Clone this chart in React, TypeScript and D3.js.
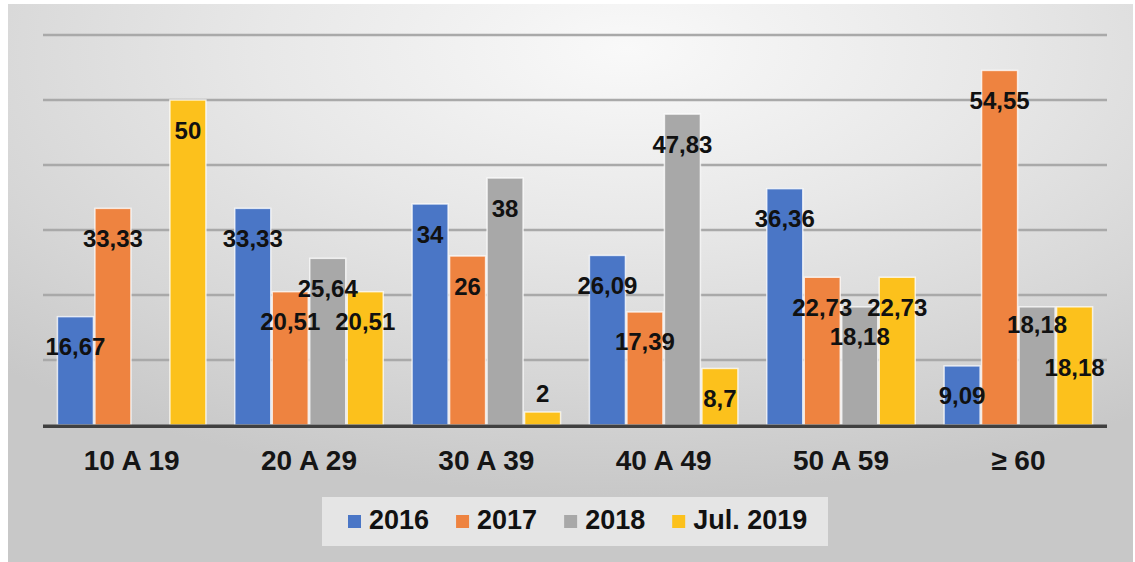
import React from "react";
import * as d3 from "d3";

const categories = ["10 A 19", "20 A 29", "30 A 39", "40 A 49", "50 A 59", "≥ 60"];
const seriesNames = ["2016", "2017", "2018", "Jul. 2019"];
const s2016 = [16.67, 33.33, 34, 26.09, 36.36, 9.09];
const s2017 = [33.33, 20.51, 26, 17.39, 22.73, 54.55];
const s2018: (number | null)[] = [null, 25.64, 38, 47.83, 18.18, 18.18];
const sJul2019 = [50, 20.51, 2, 8.7, 22.73, 18.18];
const yTicks = [0, 10, 20, 30, 40, 50, 60];

const seriesValues: (number | null)[][] = [s2016, s2017, s2018, sJul2019];
const colors = ["#4a76c6", "#ee8340", "#a8a8a8", "#fcc11c"];

// label placement nudges (pixels relative to default inside-end spot)
const labelNudge: Record<string, number> = {
  "30 A 39|Jul. 2019": -49,
  "≥ 60|2018": -12,
  "≥ 60|Jul. 2019": 31,
};

const W = 1135;
const H = 562;
const FONT = "'Liberation Sans', Arial, Helvetica, sans-serif";

function textWidth(txt: string, font: string): number {
  if (typeof document === "undefined") return txt.length * 15;
  const c = document.createElement("canvas");
  const ctx = c.getContext("2d");
  if (!ctx) return txt.length * 15;
  ctx.font = font;
  return ctx.measureText(txt).width;
}

export default function App() {
  const x0 = d3.scaleBand<string>().domain(categories).range([43, 1107]).padding(0);
  const x1 = d3
    .scaleBand<string>()
    .domain(seriesNames)
    .range([0, x0.bandwidth()])
    .paddingInner(0)
    .paddingOuter(0.365);
  const y = d3.scaleLinear().domain([0, 60]).range([425, 35]);

  const fmt = (v: number) => String(v).replace(".", ",");

  // legend layout
  const legendFont = `bold 27px ${FONT}`;
  const legendItems: { name: string; color: string; mx: number; tx: number }[] = [];
  let cursor = 348;
  seriesNames.forEach((name, i) => {
    const tw = textWidth(name, legendFont);
    legendItems.push({ name, color: colors[i], mx: cursor, tx: cursor + 21 });
    cursor += 21 + tw + 27;
  });

  return (
    <svg
      width={W}
      height={H}
      style={{ position: "absolute", left: 0, top: 0, background: "#ffffff" }}
      fontFamily={FONT}
    >
      <defs>
        <radialGradient id="bg" cx="0.55" cy="0.08" r="0.8" fx="0.55" fy="0.08">
          <stop offset="0" stopColor="#f9f9f9" />
          <stop offset="0.4" stopColor="#e8e8e8" />
          <stop offset="0.75" stopColor="#d6d6d6" />
          <stop offset="1" stopColor="#c8c8c8" />
        </radialGradient>
      </defs>
      <rect x={8} y={4} width={1125} height={558} fill="url(#bg)" />

      {/* gridlines */}
      {yTicks
        .filter((t) => t > 0)
        .map((t) => (
          <line
            key={t}
            x1={43}
            x2={1107}
            y1={y(t)}
            y2={y(t)}
            stroke="#a9a9a9"
            strokeWidth={2.5}
          />
        ))}

      {/* bars */}
      {categories.map((cat, ci) => (
        <g key={cat} transform={`translate(${x0(cat)},0)`}>
          {seriesNames.map((sn, si) => {
            const v = seriesValues[si][ci];
            if (v === null || v === undefined) return null;
            return (
              <rect
                key={sn}
                x={(x1(sn) as number) + 0.75}
                y={y(v)}
                width={x1.bandwidth() - 1.5}
                height={y(0) - y(v)}
                fill={colors[si]}
                stroke="#ffffff"
                strokeOpacity={0.75}
                strokeWidth={1.5}
              />
            );
          })}
        </g>
      ))}

      {/* baseline axis */}
      <line x1={43} x2={1107} y1={426.3} y2={426.3} stroke="#404040" strokeWidth={3.5} />

      {/* data labels */}
      {categories.map((cat, ci) =>
        seriesNames.map((sn, si) => {
          const v = seriesValues[si][ci];
          if (v === null || v === undefined) return null;
          const cx = (x0(cat) as number) + (x1(sn) as number) + x1.bandwidth() / 2;
          const nudge = labelNudge[`${cat}|${sn}`] || 0;
          const cy = y(v) + 30 + nudge;
          return (
            <text
              key={`${cat}-${sn}`}
              x={cx}
              y={cy}
              textAnchor="middle"
              dominantBaseline="central"
              fontSize={24}
              fontWeight="bold"
              fill="#111111"
            >
              {fmt(v)}
            </text>
          );
        })
      )}

      {/* category labels */}
      {categories.map((cat) => (
        <text
          key={cat}
          x={(x0(cat) as number) + x0.bandwidth() / 2}
          y={470}
          textAnchor="middle"
          fontSize={28}
          fontWeight="bold"
          fill="#151515"
        >
          {cat}
        </text>
      ))}

      {/* legend */}
      <rect x={322} y={497} width={506} height={49} fill="#e5e5e5" />
      {legendItems.map((it) => (
        <g key={it.name}>
          <rect x={it.mx} y={515} width={13} height={13} fill={it.color} />
          <text x={it.tx} y={529} fontSize={27} fontWeight="bold" fill="#111111">
            {it.name}
          </text>
        </g>
      ))}
    </svg>
  );
}
